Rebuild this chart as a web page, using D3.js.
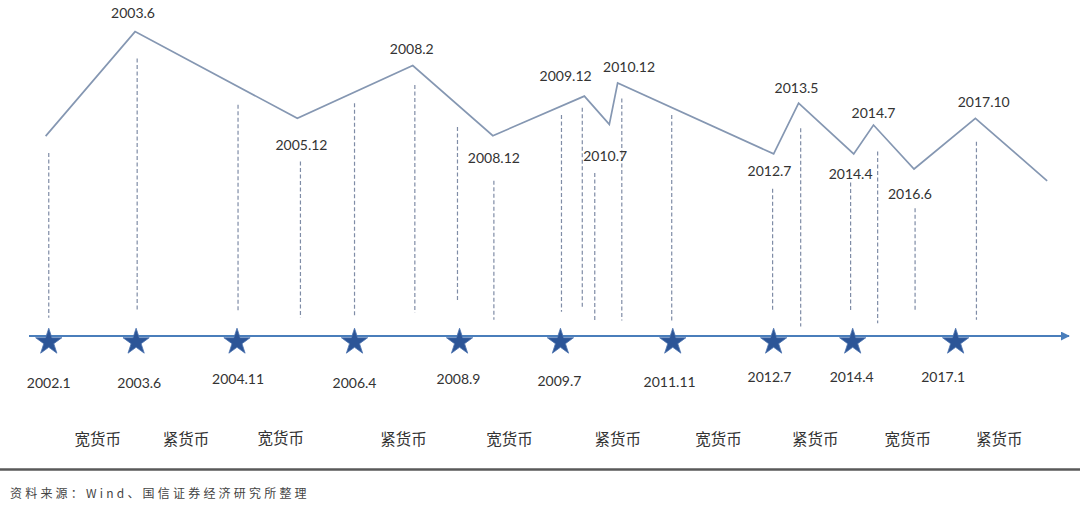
<!DOCTYPE html>
<html>
<head>
<meta charset="utf-8">
<script src="https://cdn.jsdelivr.net/npm/d3@7"></script>
<style>
  html, body { margin: 0; padding: 0; background: #fff; }
  svg { display: block; }
</style>
</head>
<body>
<svg id="chart" width="1080" height="508"></svg>
<script>
// ---- data (schematic timeline units 0-100, liquidity level 0-100) ----
const lineX     = [1.6, 10.2, 25.8, 36.9, 44.6, 53.4, 55.8, 56.6, 71.6, 74.0, 79.3, 81.2, 85.1, 91.0, 97.9];
const lineLevel = [59.5, 90.6, 64.8, 80.5, 59.6, 71.4, 63.0, 75.3, 54.2, 69.3, 54.2, 62.8, 49.7, 64.8, 46.2];

const turningLabels     = ["2003.6","2005.12","2008.2","2008.12","2009.12","2010.7","2010.12","2012.7","2013.5","2014.4","2014.7","2016.6","2017.10"];
const turningLabelX     = [10.0, 26.2, 36.8, 44.7, 51.6, 55.4, 57.7, 71.2, 73.8, 79.0, 81.2, 84.7, 91.8];
const turningLabelLevel = [96.2, 57.1, 85.6, 53.0, 77.4, 53.6, 80.1, 49.3, 74.0, 48.4, 66.5, 42.3, 69.7];

const guideX      = [1.9, 10.4, 20.1, 26.1, 31.3, 37.1, 41.2, 44.7, 51.2, 53.2, 54.4, 57.0, 61.8, 71.5, 74.2, 79.0, 81.6, 85.2, 91.1];
const guideTop    = [54.5, 82.6, 68.8, 51.9, 69.3, 74.7, 62.2, 46.2, 65.8, 67.9, 48.5, 70.7, 65.8, 43.8, 61.8, 45.7, 54.9, 38.0, 57.8];
const guideBottom = [5.4, 7.7, 7.2, 5.4, 5.4, 6.9, 10.5, 4.8, 7.2, 8.6, 4.6, 4.6, 4.6, 7.2, 2.8, 7.7, 3.8, 7.7, 4.8];

const policyDates      = ["2002.1","2003.6","2004.11","2006.4","2008.9","2009.7","2011.11","2012.7","2014.4","2017.1"];
const policyX          = [1.9, 10.3, 20.0, 31.3, 41.4, 51.1, 61.9, 71.6, 79.2, 89.1];
const policyLabelX     = [1.9, 10.6, 20.1, 31.3, 41.3, 51.0, 61.6, 71.2, 79.1, 87.9];
const policyLabelLevel = [-13.7, -13.7, -12.5, -13.7, -12.5, -13.1, -13.4, -12.2, -12.2, -12.2];

const regimes      = ["宽货币","紧货币","宽货币","紧货币","宽货币","紧货币","宽货币","紧货币","宽货币","紧货币"];
const regimeX      = [6.6, 15.1, 24.2, 36.0, 46.2, 56.6, 66.3, 75.6, 84.5, 93.3];
const regimeLevel  = [-30.4, -30.4, -30.0, -30.4, -30.4, -30.4, -30.4, -30.4, -30.4, -30.4];

const sourceText = "资料来源：Wind、国信证券经济研究所整理";

// ---- drawing ----
const svg = d3.select("#chart");
const x = d3.scaleLinear().domain([0, 100]).range([29, 1069]);
const y = d3.scaleLinear().domain([0, 100]).range([336, 0]);

const numFont = "Lato, 'Liberation Sans', sans-serif";
const cjkFont = "'Noto Sans CJK SC', sans-serif";

// dashed guides
svg.append("g").selectAll("line")
  .data(guideX.map((v, i) => ({x: v, t: guideTop[i], b: guideBottom[i]})))
  .join("line")
  .attr("x1", d => x(d.x)).attr("x2", d => x(d.x))
  .attr("y1", d => y(d.t)).attr("y2", d => y(d.b))
  .attr("stroke", "#7f8ca6")
  .attr("stroke-width", 1.2)
  .attr("stroke-dasharray", "4,2.5");

// liquidity zigzag line
const pts = lineX.map((v, i) => [v, lineLevel[i]]);
svg.append("path")
  .datum(pts)
  .attr("fill", "none")
  .attr("stroke", "#8597b2")
  .attr("stroke-width", 1.7)
  .attr("stroke-linejoin", "miter")
  .attr("d", d3.line().x(d => x(d[0])).y(d => y(d[1])));

// timeline axis with arrow
svg.append("defs").append("marker")
  .attr("id", "arrow")
  .attr("viewBox", "0 0 10 10")
  .attr("refX", 9).attr("refY", 5)
  .attr("markerWidth", 5).attr("markerHeight", 5)
  .attr("markerUnits", "strokeWidth")
  .attr("orient", "auto")
  .append("path").attr("d", "M0,0 L10,5 L0,10 Z").attr("fill", "#4a7ebb");

svg.append("line")
  .attr("x1", x(0)).attr("x2", x(100))
  .attr("y1", y(0)).attr("y2", y(0))
  .attr("stroke", "#4a7ebb")
  .attr("stroke-width", 1.8)
  .attr("marker-end", "url(#arrow)");

// stars
const star = d3.symbol().type(d3.symbolStar).size(214);
svg.append("g").selectAll("path")
  .data(policyX)
  .join("path")
  .attr("transform", d => `translate(${x(d)},${y(0) + 6})`)
  .attr("d", star)
  .attr("fill", "#2c5597")
  .attr("stroke", "#4d74b0")
  .attr("stroke-width", 0.8);

// turning point labels
svg.append("g").selectAll("text")
  .data(turningLabels)
  .join("text")
  .attr("x", (d, i) => x(turningLabelX[i]))
  .attr("y", (d, i) => y(turningLabelLevel[i]))
  .attr("text-anchor", "middle")
  .attr("dominant-baseline", "central")
  .attr("font-family", numFont)
  .attr("font-size", 14)
  .attr("fill", "#333")
  .text(d => d);

// policy date labels
svg.append("g").selectAll("text")
  .data(policyDates)
  .join("text")
  .attr("x", (d, i) => x(policyLabelX[i]))
  .attr("y", (d, i) => y(policyLabelLevel[i]))
  .attr("text-anchor", "middle")
  .attr("dominant-baseline", "central")
  .attr("font-family", numFont)
  .attr("font-size", 14)
  .attr("fill", "#333")
  .text(d => d);

// regime labels
svg.append("g").selectAll("text")
  .data(regimes)
  .join("text")
  .attr("x", (d, i) => x(regimeX[i]))
  .attr("y", (d, i) => y(regimeLevel[i]))
  .attr("text-anchor", "middle")
  .attr("dominant-baseline", "central")
  .attr("font-family", cjkFont)
  .attr("font-size", 15.5)
  .attr("fill", "#333")
  .text(d => d);

// separator and source
svg.append("line")
  .attr("x1", 0).attr("x2", 1080)
  .attr("y1", 469.5).attr("y2", 469.5)
  .attr("stroke", "#595959")
  .attr("stroke-width", 2.5);

svg.append("text")
  .attr("x", 10).attr("y", 492)
  .attr("dominant-baseline", "central")
  .attr("font-family", cjkFont)
  .attr("font-size", 12)
  .attr("letter-spacing", 3.2)
  .attr("fill", "#444")
  .text(sourceText);
</script>
</body>
</html>
